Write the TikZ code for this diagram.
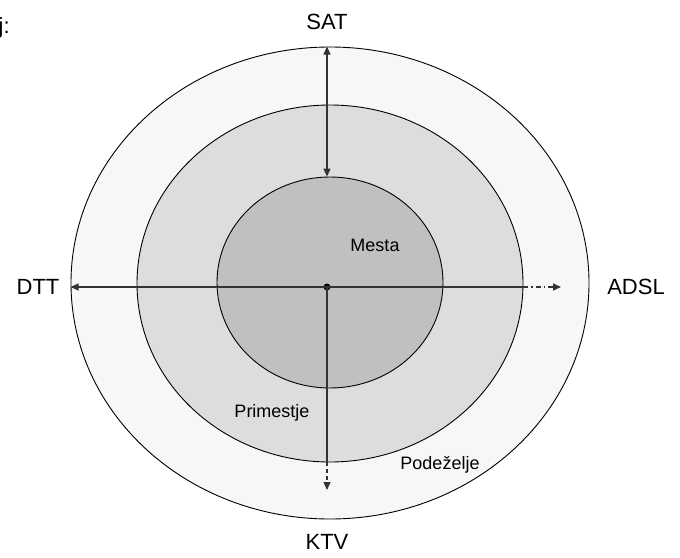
\documentclass[tikz,border=0pt]{standalone}
\usepackage{fontspec}
\setmainfont{Liberation Sans}
\usetikzlibrary{shapes.geometric,arrows.meta}
\definecolor{outerfill}{HTML}{F7F7F7}
\definecolor{midfill}{HTML}{DDDDDD}
\definecolor{innerfill}{HTML}{C0C0C0}
\definecolor{linec}{HTML}{333333}
\tikzset{
  zone/.style={ellipse, draw=black, line width=0.9pt, inner sep=0pt},
  big/.style={font=\fontsize{22}{24}\selectfont, inner sep=0pt},
  small/.style={font=\fontsize{18}{20}\selectfont, inner sep=0pt},
  conn/.style={draw=linec, line width=1.2pt},
  tip/.style={-{Triangle[length=8pt,width=7pt]}},
  dashdot/.style={dash pattern=on 5pt off 3pt on 1.5pt off 3pt},
}
\begin{document}
\begin{tikzpicture}[x=1pt,y=-1pt]
\useasboundingbox (0,0) rectangle (680,557);
\clip (0,0) rectangle (680,557);
\node[zone, fill=outerfill, minimum width=518pt, minimum height=472pt] (outer) at (330,283) {};
\node[zone, fill=midfill, minimum width=386pt, minimum height=357pt] (mid) at (330,283.5) {};
\node[zone, fill=innerfill, minimum width=226pt, minimum height=211pt] (inner) at (330,282.5) {};
\node[circle, fill=black, inner sep=0pt, minimum size=7pt] (c) at (327,287) {};
\coordinate (adslend) at (561,287);
\coordinate (ktvend) at (327,490);
% connectors
\draw[conn, {Triangle[length=8pt,width=7pt]}-{Triangle[length=8pt,width=7pt]}] (c |- outer.north) -- (c |- inner.north);
\draw[conn, tip] (c.center) -- (c -| outer.west);
\draw[conn] (c.center) -- (c -| mid.east) coordinate (me);
\draw[conn, tip, dashdot] (me) -- (adslend);
\draw[conn] (c.center) -- (c |- mid.south) coordinate (ms);
\draw[conn, tip, dash pattern=on 4pt off 3pt] (ms) -- (ktvend);
% labels
\node[big] (sat) at (327,22) {SAT};
\node[big] (dtt) at (38,287) {DTT};
\node[big] (adsl) at (636,287) {ADSL};
\node[big] (ktv) at (327,542) {KTV};
\node[small] (mesta) at (375,245) {Mesta};
\node[small] (prim) at (272,413) {Primestje};
\node[small] (pod) at (440,465) {Podeželje};
\node[big, anchor=base west] (jj) at (-1.5,33) {j:};
\end{tikzpicture}
\end{document}
